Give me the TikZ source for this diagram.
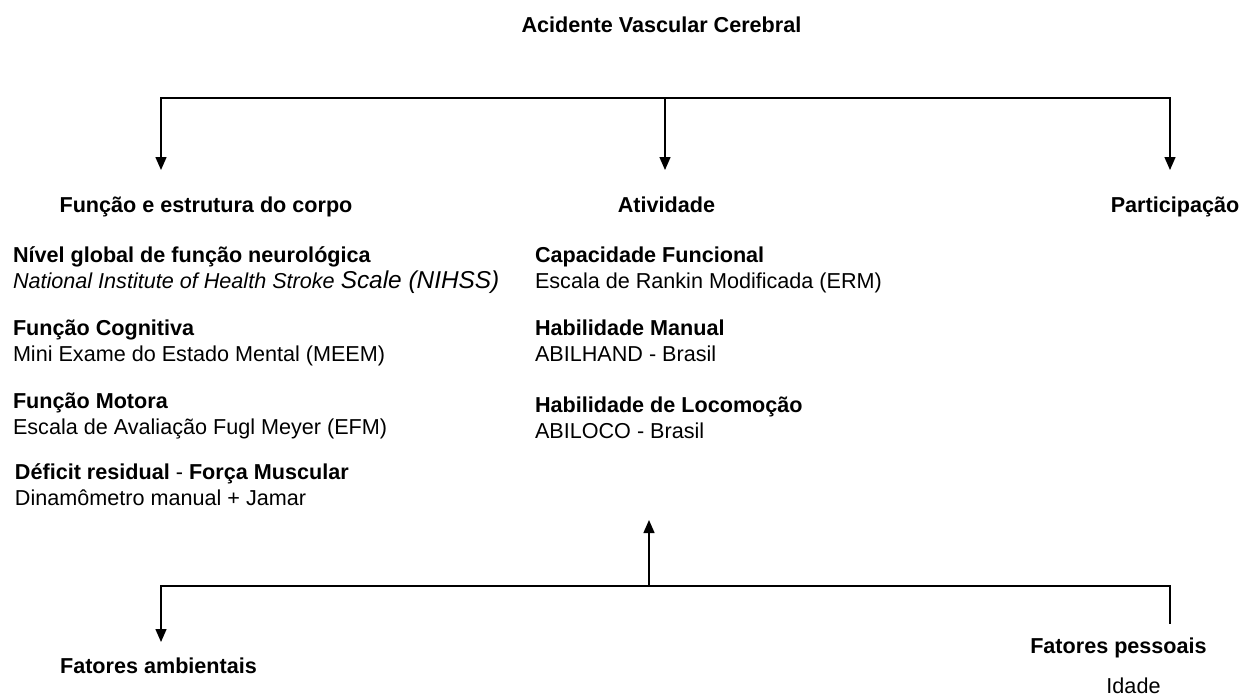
\documentclass[tikz,border=0pt]{standalone}
\usepackage{fontspec}
\setmainfont{Liberation Sans}
\usetikzlibrary{arrows.meta}
\begin{document}
\begin{tikzpicture}[x=1pt,y=-1pt,
  txt/.style={inner sep=0pt, outer sep=0pt, anchor=base west, font=\fontsize{21.6}{26}\selectfont},
  hd/.style={txt, font=\fontsize{21.6}{26}\selectfont\bfseries},
  ctr/.style={anchor=base},
  conn/.style={line width=1.4pt, draw=black, line cap=rect},
  arr/.style={line width=1.4pt, draw=black, -{Triangle[width=11pt,length=13pt]}}]
\useasboundingbox[fill=white] (0,0) rectangle (1243,697);

% title and headings
\node[hd, ctr] (avc) at (661.5,32) {Acidente Vascular Cerebral};
\node[hd, ctr] (fec) at (206,212) {Função e estrutura do corpo};
\node[hd, ctr] (ativ) at (666.5,212) {Atividade};
\node[hd, ctr] (part) at (1175,212) {Participação};

% left column
\node[hd]  (n1)  at (13,262) {Nível global de função neurológica};
\node[txt] (n1s) at (13,288) {\itshape National Institute of Health Stroke {\fontsize{24.4}{26}\selectfont Scale (NIHSS)}};
\node[hd]  (n2)  at (13,335) {Função Cognitiva};
\node[txt] (n2s) at (13,361) {Mini Exame do Estado Mental (MEEM)};
\node[hd]  (n3)  at (13,408) {Função Motora};
\node[txt] (n3s) at (13,434) {Escala de Avaliação Fugl Meyer (EFM)};
\node[txt] (n4)  at (15,479) {{\bfseries Déficit residual} - {\bfseries Força Muscular}};
\node[txt] (n4s) at (15,505) {Dinamômetro manual + Jamar};

% middle column
\node[hd]  (m1)  at (535,262) {Capacidade Funcional};
\node[txt] (m1s) at (535,288) {Escala de Rankin Modificada (ERM)};
\node[hd]  (m2)  at (535,335) {Habilidade Manual};
\node[txt] (m2s) at (535,361) {ABILHAND - Brasil};
\node[hd]  (m3)  at (535,412) {Habilidade de Locomoção};
\node[txt] (m3s) at (535,438) {ABILOCO - Brasil};

% bottom
\node[hd, ctr]  (amb)   at (158.5,673) {Fatores ambientais};
\node[hd, ctr]  (pes)   at (1118.5,653) {Fatores pessoais};
\node[txt, ctr] (idade) at (1133.5,693) {Idade};

% connector coordinates
\coordinate (tl) at (161,98);
\coordinate (tm) at (665,98);
\coordinate (tr) at (1170,98);
\coordinate (d1) at (161,170);
\coordinate (d2) at (665,170);
\coordinate (d3) at (1170,170);
\coordinate (bl) at (161,586);
\coordinate (bm) at (649,586);
\coordinate (br) at (1170,586);
\coordinate (up) at (649,520);
\coordinate (bd) at (161,642);
\coordinate (be) at (1170,623);

\draw[conn] (tl) -- (tr);
\draw[arr] (tl) -- (d1);
\draw[arr] (tm) -- (d2);
\draw[arr] (tr) -- (d3);

\draw[conn] (bl) -- (br);
\draw[arr] (bm) -- (up);
\draw[arr] (bl) -- (bd);
\draw[conn] (br) -- (be);
\end{tikzpicture}
\end{document}
